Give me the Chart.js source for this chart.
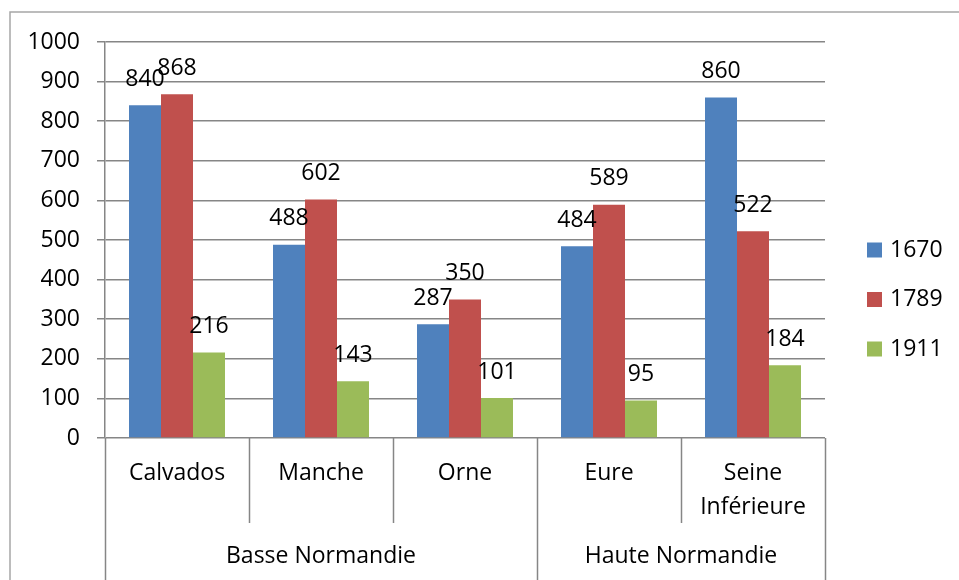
<!DOCTYPE html>
<html lang="fr">
<head>
    <meta charset="UTF-8">
    <title>Normandie 1670 / 1789 / 1911</title>
    <script src="https://cdn.jsdelivr.net/npm/chart.js"></script>
    <style>
        body { margin: 0; background: #fff; }
        #wrap { width: 959px; height: 580px; }
    </style>
</head>
<body>
    <div id="wrap"><canvas id="chart" width="959" height="580"></canvas></div>

    <script>
        // data
        const departements = ["Calvados", "Manche", "Orne", "Eure", "Seine\nInférieure"];
        const regions = [
            { name: "Basse Normandie", from: 0, to: 2 },
            { name: "Haute Normandie", from: 3, to: 4 }
        ];
        const annees = ["1670", "1789", "1911"];
        const v1670 = [840, 488, 287, 484, 860];
        const v1789 = [868, 602, 350, 589, 522];
        const v1911 = [216, 143, 101, 95, 184];
        const couleurs = ["#4F81BD", "#C0504D", "#9BBB59"];

        const FONT = "'Open Sans', 'Noto Sans', sans-serif";
        const FS = 23;
        const gridColor = "#868686";

        // draws the two-level category axis, value labels, legend and frame
        const excelLook = {
            id: "excelLook",
            beforeDraw(chart) {
                const ctx = chart.ctx;
                ctx.save();
                ctx.strokeStyle = "#a6a6a6";
                ctx.lineWidth = 1.5;
                ctx.beginPath();
                ctx.moveTo(10, 600);
                ctx.lineTo(10, 12);
                ctx.lineTo(1000, 12);
                ctx.stroke();
                ctx.restore();
            },
            afterDraw(chart) {
                const ctx = chart.ctx;
                const xs = chart.scales.x;
                const area = chart.chartArea;
                const n = departements.length;
                const w = (xs.right - xs.left) / n;
                const base = area.bottom;

                ctx.save();
                // separators under the axis
                ctx.strokeStyle = gridColor;
                ctx.lineWidth = 1.5;
                const outer = [0];
                regions.forEach(r => outer.push(r.to + 1));
                for (let i = 0; i <= n; i++) {
                    const x = Math.round(xs.left + i * w) + 0.5;
                    const y2 = outer.includes(i) ? 580 : 523;
                    ctx.beginPath();
                    ctx.moveTo(x, base);
                    ctx.lineTo(x, y2);
                    ctx.stroke();
                }

                ctx.fillStyle = "#000";
                ctx.font = FS + "px " + FONT;
                ctx.textAlign = "center";
                ctx.textBaseline = "middle";
                // department names
                departements.forEach((d, i) => {
                    const cx = xs.left + (i + 0.5) * w;
                    d.split("\n").forEach((line, k) => {
                        ctx.fillText(line, cx, 473 + k * 34);
                    });
                });
                // region names
                regions.forEach(r => {
                    const cx = xs.left + ((r.from + r.to + 1) / 2) * w;
                    ctx.fillText(r.name, cx, 556);
                });

                // value labels above bars
                chart.data.datasets.forEach((ds, di) => {
                    chart.getDatasetMeta(di).data.forEach((bar, i) => {
                        ctx.fillText(String(ds.data[i]), bar.x, bar.y - 26);
                    });
                });

                // legend
                ctx.textAlign = "left";
                annees.forEach((a, i) => {
                    const cy = 250 + i * 49.5;
                    ctx.fillStyle = couleurs[i];
                    ctx.fillRect(867, cy - 7.5, 15, 15);
                    ctx.fillStyle = "#000";
                    ctx.fillText(a, 890, cy);
                });
                ctx.restore();
            }
        };

        const series = [v1670, v1789, v1911];

        new Chart(document.getElementById("chart"), {
            type: "bar",
            data: {
                labels: departements,
                datasets: annees.map((a, i) => ({
                    label: a,
                    data: series[i],
                    backgroundColor: couleurs[i],
                    borderWidth: 0,
                    categoryPercentage: 96 / 144,
                    barPercentage: 1.0
                }))
            },
            options: {
                responsive: false,
                animation: false,
                events: [],
                layout: { padding: { left: 0, top: 42, right: 134, bottom: 142 } },
                plugins: {
                    legend: { display: false },
                    tooltip: { enabled: false }
                },
                scales: {
                    x: {
                        ticks: { display: false },
                        grid: { display: false },
                        border: { display: false },
                        afterFit: s => { s.width = s.width; s.height = 0; }
                    },
                    y: {
                        min: 0,
                        max: 1000,
                        ticks: {
                            stepSize: 100,
                            color: "#000",
                            padding: 17,
                            font: { family: FONT, size: FS },
                            callback: v => String(v)
                        },
                        grid: { color: gridColor, lineWidth: 1.5, tickLength: 8 },
                        border: { display: true, color: gridColor, width: 1.5 },
                        afterFit: s => { s.width = 105; }
                    }
                }
            },
            plugins: [excelLook]
        });
    </script>
</body>
</html>
